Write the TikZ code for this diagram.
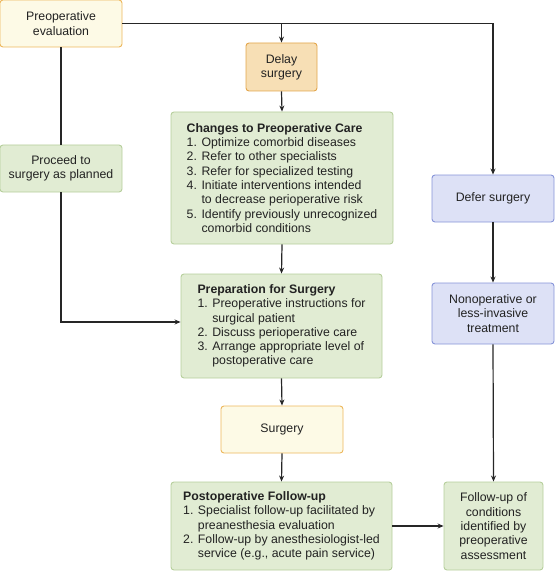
\documentclass[tikz,border=0pt]{standalone}
\usepackage{fontspec}
\setmainfont{Liberation Sans}
\usetikzlibrary{arrows.meta}
\definecolor{yelfill}{HTML}{FDFAE6}
\definecolor{yeldraw}{HTML}{EDB75C}
\definecolor{orgfill}{HTML}{F7DFB5}
\definecolor{orgdraw}{HTML}{E3A64C}
\definecolor{grnfill}{HTML}{E1ECD3}
\definecolor{grndraw}{HTML}{B6CF9C}
\definecolor{blufill}{HTML}{DDE1F6}
\definecolor{bludraw}{HTML}{8694D8}
\definecolor{txt}{HTML}{222222}
\tikzset{
	box/.style={draw, rounded corners=3pt, line width=0.9pt, inner sep=0pt, text=txt,
		font=\fontsize{12.3}{14.3}\selectfont, align=center},
	yelbox/.style={box, fill=yelfill, draw=yeldraw},
	orgbox/.style={box, fill=orgfill, draw=orgdraw},
	grnbox/.style={box, fill=grnfill, draw=grndraw},
	blubox/.style={box, fill=blufill, draw=bludraw},
	arr/.style={line width=1.2pt, draw=black!85, -{Stealth[length=6pt,width=5pt]}},
	ln/.style={line width=1.2pt, draw=black!85}
}

\begin{document}
\begin{tikzpicture}[x=1pt, y=-1pt]
			%%%%% START %%%%%
			\useasboundingbox (0, 0) rectangle (555, 572);
			
			% left column
			\node[yelbox, minimum width=122, minimum height=47] (preop) at (61, 23.5) {Preoperative\\evaluation};
			\node[grnbox, minimum width=122, minimum height=47] (proceed) at (61, 168.5) {Proceed to\\surgery as planned};
			
			% middle column
			\node[orgbox, minimum width=71, minimum height=48] (delay) at (281.5, 67) {Delay\\surgery};
			\node[grnbox, align=left, minimum width=222, minimum height=132] (changes) at (282, 178) {%
				\textbf{Changes to Preoperative Care}\\
				1. Optimize comorbid diseases\\
				2. Refer to other specialists\\
				3. Refer for specialized testing\\
				4. Initiate interventions intended\\
				\phantom{4. }to decrease perioperative risk\\
				5. Identify previously unrecognized\\
				\phantom{5. }comorbid conditions};
			\node[grnbox, align=left, minimum width=201, minimum height=104] (prep) at (281.5, 326) {%
				\textbf{Preparation for Surgery}\\
				1. Preoperative instructions for\\
				\phantom{1. }surgical patient\\
				2. Discuss perioperative care\\
				3. Arrange appropriate level of\\
				\phantom{3. }postoperative care};
			\node[yelbox, minimum width=122, minimum height=47] (surgery) at (282, 429.5) {Surgery};
			\node[grnbox, align=left, minimum width=221, minimum height=88] (postop) at (281.5, 526) {%
				\textbf{Postoperative Follow-up}\\
				1. Specialist follow-up facilitated by\\
				\phantom{1. }preanesthesia evaluation\\
				2. Follow-up by anesthesiologist-led\\
				\phantom{2. }service (e.g., acute pain service)};
			
			% right column
			\node[blubox, minimum width=122, minimum height=47] (defer) at (493, 198.5) {Defer surgery};
			\node[blubox, minimum width=122, minimum height=61] (nonop) at (493, 313.5) {Nonoperative or\\less-invasive\\treatment};
			\node[grnbox, minimum width=99, minimum height=88] (fucond) at (493.5, 526) {Follow-up of\\conditions\\identified by\\preoperative\\assessment};
			
			% connectors
			\draw[arr] (preop.east) -| (defer.north);
			\draw[arr] (delay.north |- preop.east) -- (delay.north);
			\draw[ln] (preop.south) -- (proceed.north);
			\draw[arr] (proceed.south) |- ([yshift=4]prep.west);
			\draw[arr] (delay.south) -- (changes.north);
			\draw[arr] (changes.south) -- (prep.north);
			\draw[arr] (prep.south) -- (surgery.north);
			\draw[arr] (surgery.south) -- (postop.north);
			\draw[arr] (defer.south) -- (nonop.north);
			\draw[arr] (nonop.south) -- (fucond.north);
			\draw[arr] (postop.east) -- (fucond.west);
			
			%%%%% END %%%%%
		\end{tikzpicture}
\end{document}
